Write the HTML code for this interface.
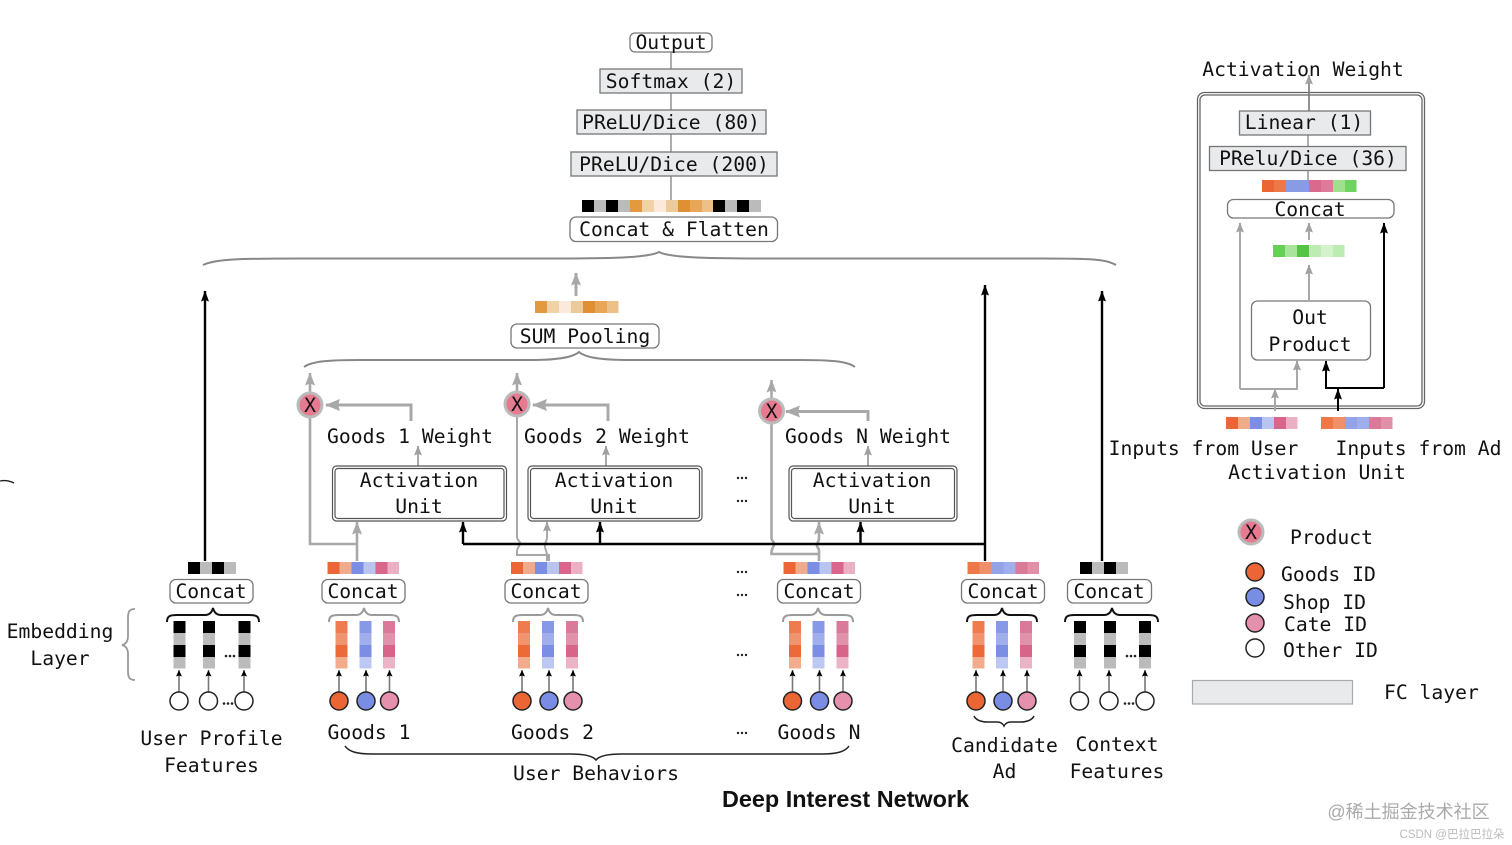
<!DOCTYPE html>
<html><head><meta charset="utf-8"><title>Deep Interest Network</title>
<style>
html,body{margin:0;padding:0;background:#fff;width:1512px;height:845px;overflow:hidden}
svg{display:block;filter:blur(.35px)}
text{font-family:"DejaVu Sans Mono","Liberation Mono",monospace;font-size:19.7px;fill:#111;text-anchor:middle}
.s{text-anchor:start}
.box{fill:#fff;stroke:#777;stroke-width:1.3}
.fc{fill:#e9eaec;stroke:#777;stroke-width:1.3}
.g{fill:none;stroke:#a8a8a8;stroke-width:2.6}
.g2{fill:none;stroke:#a8a8a8;stroke-width:2}
.k{fill:none;stroke:#000;stroke-width:2.4}
.t{fill:none;stroke:#777;stroke-width:1.6}
.bg{fill:none;stroke:#9a9a9a;stroke-width:2}
.bk{fill:none;stroke:#111;stroke-width:2}
.x{fill:#e57a90;stroke:#bbb;stroke-width:3}
.o{fill:#ec6535;stroke:#222;stroke-width:1.5}
.b{fill:#7a8de4;stroke:#222;stroke-width:1.5}
.p{fill:#e590ac;stroke:#222;stroke-width:1.5}
.w{fill:#fff;stroke:#222;stroke-width:1.5}
</style></head><body>
<svg xmlns="http://www.w3.org/2000/svg" width="1512" height="845" viewBox="0 0 1512 845">
<defs>
<marker id="ga" markerUnits="userSpaceOnUse" markerWidth="10" markerHeight="13" refX="5" refY="0.5" viewBox="0 0 10 13" orient="0" overflow="visible"><path d="M5 0L10 13L5 11L0 13Z" fill="#a8a8a8"/></marker>
<marker id="gs" markerUnits="userSpaceOnUse" markerWidth="8" markerHeight="10" refX="4" refY="0.5" viewBox="0 0 8 10" orient="0" overflow="visible"><path d="M4 0L8 10L4 8.500L0 10Z" fill="#a0a0a0"/></marker>
<marker id="gl" markerUnits="userSpaceOnUse" markerWidth="15" markerHeight="12" refX="1" refY="6" viewBox="0 0 15 12" orient="0" overflow="visible"><path d="M0 6L15 0L13 6L15 12Z" fill="#a8a8a8"/></marker>
<marker id="ka" markerUnits="userSpaceOnUse" markerWidth="8" markerHeight="11" refX="4" refY="0.5" viewBox="0 0 8 11" orient="0" overflow="visible"><path d="M4 0L8 11L4 9.500L0 11Z" fill="#000"/></marker>
<marker id="ks" markerUnits="userSpaceOnUse" markerWidth="6" markerHeight="7" refX="3" refY="0" viewBox="0 0 6 7" orient="0" overflow="visible"><path d="M3 0L6 6.500L3 5.500L0 6.500Z" fill="#000"/></marker>
<g id="hk"><rect width="12" height="12" fill="#000"/><rect x="12" width="12" height="12" fill="#bbb"/><rect x="24" width="12" height="12" fill="#000"/><rect x="36" width="12" height="12" fill="#bbb"/></g>
<g id="h1"><rect width="12" height="12" fill="#ec6535"/><rect x="12" width="12" height="12" fill="#f0ab8b"/><rect x="24" width="12" height="12" fill="#7b8ee4"/><rect x="36" width="12" height="12" fill="#b8c5ef"/><rect x="48" width="12" height="12" fill="#d9658a"/><rect x="60" width="11.500" height="12" fill="#ecb0c4"/></g>
<g id="h2"><rect width="12" height="12" fill="#ee7848"/><rect x="12" width="12" height="12" fill="#ef906a"/><rect x="24" width="12" height="12" fill="#93a3e6"/><rect x="36" width="12" height="12" fill="#a0aeec"/><rect x="48" width="12" height="12" fill="#d97a99"/><rect x="60" width="11.500" height="12" fill="#e28fa8"/></g>
<g id="or7"><rect width="12" height="12" fill="#e39a3f"/><rect x="12" width="12" height="12" fill="#f0d2a8"/><rect x="24" width="12" height="12" fill="#fbeadb"/><rect x="36" width="12" height="12" fill="#eccb9a"/><rect x="48" width="12" height="12" fill="#e08f32"/><rect x="60" width="12" height="12" fill="#e8a658"/><rect x="72" width="11.500" height="12" fill="#eec089"/></g>
<g id="vk"><rect width="12" height="12" fill="#000"/><rect y="12" width="12" height="12" fill="#bbb"/><rect y="24" width="12" height="12" fill="#000"/><rect y="36" width="12" height="11.500" fill="#bbb"/></g>
<g id="vo"><rect width="12" height="12" fill="#ef7c4f"/><rect y="12" width="12" height="12" fill="#f0946f"/><rect y="24" width="12" height="12" fill="#ec6a38"/><rect y="36" width="12" height="11.500" fill="#f2ab8d"/></g>
<g id="vb"><rect width="12" height="12" fill="#8798e6"/><rect y="12" width="12" height="12" fill="#a0aeec"/><rect y="24" width="12" height="12" fill="#7b8ee4"/><rect y="36" width="12" height="11.500" fill="#bcc8f2"/></g>
<g id="vp"><rect width="12" height="12" fill="#d97a9a"/><rect y="12" width="12" height="12" fill="#e192ab"/><rect y="24" width="12" height="12" fill="#d66589"/><rect y="36" width="12" height="11.500" fill="#ecb3c6"/></g>
</defs>

<!-- top stack -->
<path d="M671 52V200" class="t" style="stroke-width:1.200"/>
<rect x="630" y="33" width="82" height="19" rx="5" class="box"/><text x="671" y="49">Output</text>
<rect x="600" y="69" width="142" height="24" class="fc"/><text x="671" y="88">Softmax (2)</text>
<rect x="577" y="110" width="189" height="24" class="fc"/><text x="671" y="129">PReLU/Dice (80)</text>
<rect x="571" y="152" width="206" height="24" class="fc"/><text x="674" y="171">PReLU/Dice (200)</text>
<use href="#hk" x="582" y="200"/>
<use href="#or7" x="630" y="200"/>
<use href="#hk" x="713" y="200"/>
<rect x="570" y="217" width="207.500" height="24.500" rx="6" class="box"/><text x="674" y="236">Concat &amp; Flatten</text>
<path d="M203 265C215 259 240 258.500 300 258.500L560 258.500C620 258.500 650 257 659 252C668 257 700 258.500 760 258.500L1040 258.500C1090 258.500 1106 259 1116 265" fill="none" stroke="#888" stroke-width="2"/>

<!-- pooling -->
<path d="M576 296V273" class="g" style="stroke-width:3" marker-end="url(#ga)"/>
<use href="#or7" x="535" y="301"/>
<rect x="511" y="324" width="148" height="24" rx="6" class="box"/><text x="585" y="343">SUM Pooling</text>
<path d="M304 367C312 361 330 360 360 360L530 360C555 360 572 358 579 352C586 358 603 360 630 360L800 360C830 360 847 361 855 367" fill="none" stroke="#888" stroke-width="2"/>

<!-- gray connectors -->
<path d="M310 417V544H357" class="g"/>
<path d="M357 561V522" class="g" marker-end="url(#ga)"/>
<path d="M517 417V537C517 541 521 541 520 544C519 547 517 548 517 551V555H549V561" class="g2"/>
<path d="M547 561V555C547 551 544 548 545 544C546 541 547 541 547 537V522" class="g2" marker-end="url(#gs)"/>
<path d="M771.500 423V538C771.500 541 775 542 774 545C773 548 771.500 549 771.500 552V554H819V561" class="g"/>
<path d="M819 554V550C819 548 816 547 817 544C818 542 819 541 819 538V522" class="g" marker-end="url(#ga)"/>
<path d="M310 393V373" class="g" marker-end="url(#ga)"/>
<path d="M517 392V373" class="g" marker-end="url(#ga)"/>
<path d="M771.500 399V380" class="g" marker-end="url(#ga)"/>
<path d="M411 421V405H326" class="g" style="stroke-width:3" marker-end="url(#gl)"/>
<path d="M608 421V405H533" class="g" style="stroke-width:3" marker-end="url(#gl)"/>
<path d="M868 421V411.500H786" class="g" style="stroke-width:3" marker-end="url(#gl)"/>
<path d="M418 466V446" class="g2" marker-end="url(#gs)"/>
<path d="M606 466V446" class="g2" marker-end="url(#gs)"/>
<path d="M868 466V446" class="g2" marker-end="url(#gs)"/>

<circle cx="310" cy="405" r="12" class="x"/><text x="310" y="412">X</text>
<circle cx="517" cy="404" r="12" class="x"/><text x="517" y="411">X</text>
<circle cx="771.500" cy="411" r="12" class="x"/><text x="771.500" y="418">X</text>
<text x="410" y="443">Goods 1 Weight</text>
<text x="607" y="443">Goods 2 Weight</text>
<text x="868" y="443">Goods N Weight</text>

<!-- activation units -->
<g fill="none">
<rect x="332.500" y="466" width="174" height="55" rx="4" stroke="#555" stroke-width="1.200"/><rect x="335" y="468.500" width="169" height="50" rx="3" stroke="#555" stroke-width="1.200"/>
<rect x="528" y="466" width="174" height="55" rx="4" stroke="#555" stroke-width="1.200"/><rect x="530.500" y="468.500" width="169" height="50" rx="3" stroke="#555" stroke-width="1.200"/>
<rect x="789" y="466" width="168" height="55" rx="4" stroke="#555" stroke-width="1.200"/><rect x="791.500" y="468.500" width="163" height="50" rx="3" stroke="#555" stroke-width="1.200"/>
</g>
<text x="419" y="487">Activation</text><text x="419" y="513">Unit</text>
<text x="614" y="487">Activation</text><text x="614" y="513">Unit</text>
<text x="872" y="487">Activation</text><text x="872" y="513">Unit</text>

<!-- black connectors -->
<path d="M463 544H985" class="k"/>
<path d="M463 544V522" class="k" marker-end="url(#ka)"/>
<path d="M600 544V522" class="k" marker-end="url(#ka)"/>
<path d="M860.500 544V522" class="k" marker-end="url(#ka)"/>
<path d="M985 561V285" class="k" marker-end="url(#ka)"/>
<path d="M205 561V291" class="k" marker-end="url(#ka)"/>
<path d="M1102 561V291" class="k" marker-end="url(#ka)"/>

<!-- horizontal bars -->
<use href="#hk" x="188" y="562"/>
<use href="#h1" x="327.500" y="562"/>
<use href="#h1" x="511" y="562"/>
<use href="#h1" x="783.500" y="562"/>
<use href="#h2" x="967.500" y="562"/>
<use href="#hk" x="1080" y="562"/>

<!-- concat boxes -->
<rect x="170" y="579.500" width="83" height="23.500" rx="6" class="box"/><text x="211" y="598">Concat</text>
<rect x="322" y="579.500" width="83" height="23.500" rx="6" class="box"/><text x="363" y="598">Concat</text>
<rect x="505" y="579.500" width="83" height="23.500" rx="6" class="box"/><text x="546" y="598">Concat</text>
<rect x="777.500" y="579.500" width="83" height="23.500" rx="6" class="box"/><text x="819" y="598">Concat</text>
<rect x="961.500" y="579.500" width="83" height="23.500" rx="6" class="box"/><text x="1003" y="598">Concat</text>
<rect x="1067.500" y="579.500" width="84" height="23.500" rx="6" class="box"/><text x="1109" y="598">Concat</text>

<!-- small braces -->
<path d="M167 622C167 616 170 615 177 615H205C210 615 212 612 213 608C214 612 216 615 221 615H249C256 615 259 616 259 622" class="bk"/>
<path d="M329 622C329 616 332 615 339 615H356C361 615 363 612 364 608C365 612 367 615 372 615H389C396 615 399 616 399 622" class="bg"/>
<path d="M513 622C513 616 516 615 523 615H540C545 615 547 612 548 608C549 612 551 615 556 615H573C580 615 583 616 583 622" class="bg"/>
<path d="M783 622C783 616 786 615 793 615H810C815 615 817 612 818 608C819 612 821 615 826 615H843C850 615 853 616 853 622" class="bg"/>
<path d="M967 622C967 616 970 615 977 615H994C999 615 1001 612 1002 608C1003 612 1005 615 1010 615H1027C1034 615 1037 616 1037 622" class="bk"/>
<path d="M1065 622C1065 616 1068 615 1075 615H1104C1109 615 1111 612 1112 608C1113 612 1115 615 1120 615H1148C1155 615 1158 616 1158 622" class="bk"/>

<!-- vertical bars -->
<use href="#vk" x="173.500" y="621"/><use href="#vk" x="203" y="621"/><use href="#vk" x="238.500" y="621"/>
<use href="#vo" x="335.500" y="621"/><use href="#vb" x="359.500" y="621"/><use href="#vp" x="383" y="621"/>
<use href="#vo" x="518" y="621"/><use href="#vb" x="542" y="621"/><use href="#vp" x="566" y="621"/>
<use href="#vo" x="789" y="621"/><use href="#vb" x="812.500" y="621"/><use href="#vp" x="836.500" y="621"/>
<use href="#vo" x="972.500" y="621"/><use href="#vb" x="996" y="621"/><use href="#vp" x="1020" y="621"/>
<use href="#vk" x="1074" y="621"/><use href="#vk" x="1104" y="621"/><use href="#vk" x="1139" y="621"/>

<!-- small arrows -->
<g fill="none" stroke="#777" stroke-width="1.600">
<path d="M179 692V670" marker-end="url(#ks)"/><path d="M208.500 692V670" marker-end="url(#ks)"/><path d="M244 692V670" marker-end="url(#ks)"/>
<path d="M339 692V670" marker-end="url(#ks)"/><path d="M366 692V670" marker-end="url(#ks)"/><path d="M389.500 692V670" marker-end="url(#ks)"/>
<path d="M522 692V670" marker-end="url(#ks)"/><path d="M549 692V670" marker-end="url(#ks)"/><path d="M573 692V670" marker-end="url(#ks)"/>
<path d="M792.500 692V670" marker-end="url(#ks)"/><path d="M819.500 692V670" marker-end="url(#ks)"/><path d="M843 692V670" marker-end="url(#ks)"/>
<path d="M976 692V670" marker-end="url(#ks)"/><path d="M1003 692V670" marker-end="url(#ks)"/><path d="M1027 692V670" marker-end="url(#ks)"/>
<path d="M1079.500 692V670" marker-end="url(#ks)"/><path d="M1109 692V670" marker-end="url(#ks)"/><path d="M1145 692V670" marker-end="url(#ks)"/>
</g>

<!-- input circles -->
<circle cx="179" cy="701" r="9" class="w"/><circle cx="208.500" cy="701" r="9" class="w"/><circle cx="244" cy="701" r="9" class="w"/>
<circle cx="339" cy="701" r="9" class="o"/><circle cx="366" cy="701" r="9" class="b"/><circle cx="389.500" cy="701" r="9" class="p"/>
<circle cx="522" cy="701" r="9" class="o"/><circle cx="549" cy="701" r="9" class="b"/><circle cx="573" cy="701" r="9" class="p"/>
<circle cx="792.500" cy="701" r="9" class="o"/><circle cx="819.500" cy="701" r="9" class="b"/><circle cx="843" cy="701" r="9" class="p"/>
<circle cx="976" cy="701" r="9" class="o"/><circle cx="1003" cy="701" r="9" class="b"/><circle cx="1027" cy="701" r="9" class="p"/>
<circle cx="1079.500" cy="701" r="9" class="w"/><circle cx="1109" cy="701" r="9" class="w"/><circle cx="1145" cy="701" r="9" class="w"/>

<!-- ellipsis dots -->
<g fill="#222">
<circle cx="226" cy="656" r="1.300"/><circle cx="230" cy="656" r="1.300"/><circle cx="234" cy="656" r="1.300"/>
<circle cx="224" cy="703.500" r="1.300"/><circle cx="228" cy="703.500" r="1.300"/><circle cx="232" cy="703.500" r="1.300"/>
<circle cx="1127" cy="656" r="1.300"/><circle cx="1131" cy="656" r="1.300"/><circle cx="1135" cy="656" r="1.300"/>
<circle cx="1125" cy="703.500" r="1.300"/><circle cx="1129" cy="703.500" r="1.300"/><circle cx="1133" cy="703.500" r="1.300"/>
<circle cx="738" cy="478" r="1.200"/><circle cx="742" cy="478" r="1.200"/><circle cx="746" cy="478" r="1.200"/>
<circle cx="738" cy="501" r="1.200"/><circle cx="742" cy="501" r="1.200"/><circle cx="746" cy="501" r="1.200"/>
<circle cx="738" cy="572" r="1.200"/><circle cx="742" cy="572" r="1.200"/><circle cx="746" cy="572" r="1.200"/>
<circle cx="738" cy="595" r="1.200"/><circle cx="742" cy="595" r="1.200"/><circle cx="746" cy="595" r="1.200"/>
<circle cx="738" cy="655" r="1.200"/><circle cx="742" cy="655" r="1.200"/><circle cx="746" cy="655" r="1.200"/>
<circle cx="738" cy="733" r="1.200"/><circle cx="742" cy="733" r="1.200"/><circle cx="746" cy="733" r="1.200"/>
</g>

<!-- bottom labels -->
<text x="211.500" y="745">User Profile</text><text x="211.500" y="772">Features</text>
<text x="369" y="739">Goods 1</text><text x="552.500" y="739">Goods 2</text><text x="819" y="739">Goods N</text>
<text x="1004.500" y="752">Candidate</text><text x="1004.500" y="778">Ad</text>
<text x="1117" y="751">Context</text><text x="1117" y="778">Features</text>
<text x="596" y="780">User Behaviors</text>
<path d="M345 746C349 752 358 754 372 754L570 754C585 754 593 756 596 760C599 756 607 754 622 754L822 754C836 754 845 752 849 746" fill="none" stroke="#222" stroke-width="1.500"/>
<path d="M974 716C976 720 981 722 988 722L997 722C1001 722 1003 724 1004 726C1005 724 1007 722 1011 722L1020 722C1027 722 1032 720 1034 716" fill="none" stroke="#222" stroke-width="1.500"/>
<text x="845.500" y="807" style="font-family:'Liberation Sans',sans-serif;font-weight:700;font-size:23.400px">Deep Interest Network</text>

<!-- embedding -->
<text x="60" y="638">Embedding</text><text x="60" y="665">Layer</text>
<path d="M135 609C129 609 128 612 128 618V636C128 641 126 644 122 645C126 646 128 649 128 654V671C128 677 129 680 135 680" fill="none" stroke="#999" stroke-width="1.800"/>
<path d="M0 481C5 480 10 481 14 483" fill="none" stroke="#222" stroke-width="1.300"/>

<!-- right panel -->
<rect x="1197.500" y="92.500" width="227" height="316" rx="7" fill="none" stroke="#666" stroke-width="1.300"/>
<rect x="1200" y="95" width="222" height="311" rx="5" fill="none" stroke="#666" stroke-width="1.300"/>
<text x="1303" y="76">Activation Weight</text>
<path d="M1309 111V75" class="t" marker-end="url(#gs)"/>
<rect x="1239.500" y="111" width="131" height="24" class="fc"/>
<text x="1304" y="129">Linear (1)</text>
<path d="M1308 135V146.500" class="t" style="stroke-width:1.200"/>
<rect x="1209.500" y="146.500" width="196.500" height="24" class="fc"/><text x="1308" y="165">PRelu/Dice (36)</text>
<path d="M1308 170.500V180" class="t" style="stroke-width:1.200"/>
<rect x="1262" y="180" width="12" height="12" fill="#ec6535"/><rect x="1274" y="180" width="12" height="12" fill="#ee7848"/><rect x="1286" y="180" width="12" height="12" fill="#8a9be6"/><rect x="1297.500" y="180" width="12" height="12" fill="#8a9be6"/><rect x="1309" y="180" width="12" height="12" fill="#d96a8e"/><rect x="1321" y="180" width="12" height="12" fill="#de7a9a"/><rect x="1333" y="180" width="12" height="12" fill="#9fe08f"/><rect x="1345" y="180" width="11.500" height="12" fill="#6fd45f"/>
<rect x="1227.500" y="199.500" width="166.500" height="18.500" rx="6" class="box"/><text x="1310" y="216">Concat</text>
<path d="M1240 389V223" class="g2" marker-end="url(#gs)"/>
<path d="M1309 240V223" class="g2" marker-end="url(#gs)"/>
<rect x="1273" y="245" width="12" height="12" fill="#66cf55"/><rect x="1285" y="245" width="12" height="12" fill="#a8e49c"/><rect x="1297" y="245" width="12" height="12" fill="#55c444"/><rect x="1309" y="245" width="12" height="12" fill="#bdecb2"/><rect x="1321" y="245" width="12" height="12" fill="#d4f2cc"/><rect x="1333" y="245" width="11.500" height="12" fill="#bdecb2"/>
<path d="M1309 300V265" class="g2" marker-end="url(#gs)"/>
<rect x="1251.500" y="301" width="119" height="59" rx="6" class="box"/><text x="1310" y="324">Out</text><text x="1310" y="351">Product</text>
<path d="M1240 389H1297V361" class="g2" marker-end="url(#gs)"/>
<path d="M1275 411V389" class="g2" marker-end="url(#gs)"/>
<path d="M1384 388V223" class="k" style="stroke-width:2" marker-end="url(#ka)"/>
<path d="M1384 388H1326V361" class="k" style="stroke-width:2" marker-end="url(#ka)"/>
<path d="M1338 411V389" class="k" style="stroke-width:2" marker-end="url(#ka)"/>
<use href="#h1" x="1226" y="417"/><use href="#h2" x="1321" y="417"/>
<text x="1203.500" y="455">Inputs from User</text><text x="1418.500" y="455">Inputs from Ad</text>
<text x="1317" y="479">Activation Unit</text>

<!-- legend -->
<circle cx="1251" cy="532" r="12" class="x"/><text x="1251" y="539">X</text>
<text x="1290" y="544" class="s">Product</text>
<circle cx="1255" cy="572" r="9" class="o"/><text x="1281" y="581" class="s">Goods ID</text>
<circle cx="1255" cy="597" r="9" class="b"/><text x="1283" y="609" class="s">Shop ID</text>
<circle cx="1255" cy="623" r="9" class="p"/><text x="1284" y="631" class="s">Cate ID</text>
<circle cx="1255" cy="648" r="9" class="w"/><text x="1283" y="657" class="s">Other ID</text>
<rect x="1192.500" y="680.500" width="160" height="23.500" fill="#e9eaec" stroke="#aaa" stroke-width="1.200"/>
<text x="1384" y="699" class="s">FC layer</text>

<!-- watermarks -->
<text x="1408.500" y="818" style="font-family:'Liberation Sans','Noto Sans CJK SC',sans-serif;font-size:18px;fill:#aaa">@稀土掘金技术社区</text>
<text x="1452" y="838" style="font-family:'Liberation Sans','Noto Sans CJK SC',sans-serif;font-size:11.500px;fill:#bbb">CSDN @巴拉巴拉朵</text>
</svg>
</body></html>
